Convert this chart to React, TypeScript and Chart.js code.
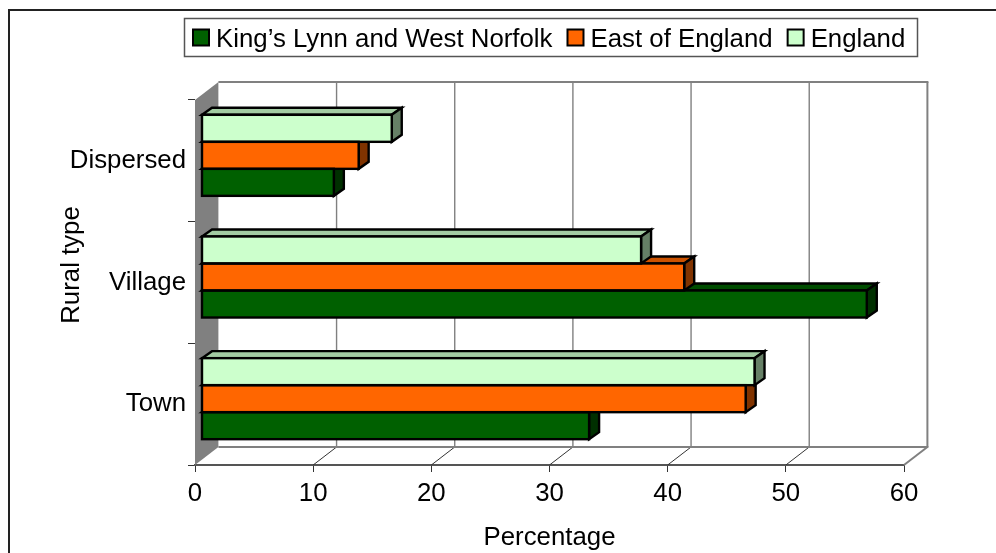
import React, { useEffect, useRef } from "react";
import { Chart, registerables } from "chart.js";

Chart.register(...registerables);

const categories = ["Town", "Village", "Dispersed"];
const kingsLynn = [32.8, 56.3, 11.2];
const eastOfEngland = [46.05, 40.85, 13.3];
const england = [46.8, 37.2, 16.1];
const seriesNames = ["King\u2019s Lynn and West Norfolk", "East of England", "England"];
const frontColors = ["#006000", "#FF6600", "#CCFFCC"];
const topColors = ["#004D00", "#CC5200", "#A3CCA3"];
const sideColors = ["#003000", "#803300", "#668066"];
const xTicks = [0, 10, 20, 30, 40, 50, 60];

const FONT = "Arial, 'Liberation Sans', sans-serif";
const FS = 25.8;
const WALL_DX = 23.4;
const WALL_DY = -18;
const BAR_DX = 10;
const BAR_DY = -7;
const BAR_SHIFT_X = 6.5;
const BAR_SHIFT_Y = -5.5;
const GRAY = "#808080";
const EDGE = 2.4;

function polygon(ctx: CanvasRenderingContext2D, pts: number[][], fill?: string) {
  ctx.beginPath();
  pts.forEach((p, i) => (i ? ctx.lineTo(p[0], p[1]) : ctx.moveTo(p[0], p[1])));
  ctx.closePath();
  if (fill) {
    ctx.fillStyle = fill;
    ctx.fill();
  }
}

function line(ctx: CanvasRenderingContext2D, x1: number, y1: number, x2: number, y2: number, color: string, w: number) {
  ctx.beginPath();
  ctx.moveTo(x1, y1);
  ctx.lineTo(x2, y2);
  ctx.strokeStyle = color;
  ctx.lineWidth = w;
  ctx.stroke();
}

const wallsAndDepth = {
  id: "wallsAndDepth",
  beforeDatasetsDraw(chart: any) {
    const ctx: CanvasRenderingContext2D = chart.ctx;
    const { left, right, top, bottom } = chart.chartArea;
    const x = chart.scales.x;
    ctx.save();
    // chart frame
    line(ctx, 9, 10, 996, 10, "#222222", 2);
    line(ctx, 9, 9, 9, 553, "#222222", 2);
    // left wall
    polygon(ctx, [[left, bottom], [left + WALL_DX, bottom + WALL_DY], [left + WALL_DX, top + WALL_DY], [left, top]], GRAY);
    // back wall grid and floor lines
    xTicks.forEach((t) => {
      const px = x.getPixelForValue(t);
      if (t > 0 && t < 60) {
        line(ctx, px + WALL_DX, top + WALL_DY, px + WALL_DX, bottom + WALL_DY, GRAY, 1.4);
        line(ctx, px, bottom, px + WALL_DX, bottom + WALL_DY, "#333333", 1);
      }
    });
    const bx = left + WALL_DX;
    const ex = right + WALL_DX;
    line(ctx, bx, top + WALL_DY, ex + 1, top + WALL_DY, GRAY, 2);
    line(ctx, bx, bottom + WALL_DY, ex + 1, bottom + WALL_DY, GRAY, 2);
    line(ctx, ex, top + WALL_DY, ex, bottom + WALL_DY, GRAY, 2);
    line(ctx, right, bottom, ex, bottom + WALL_DY, GRAY, 2);
    // 3D faces of bars, back to front within each group
    ctx.translate(BAR_SHIFT_X, BAR_SHIFT_Y);
    ctx.lineJoin = "miter";
    chart.data.datasets.forEach((_: any, d: number) => {
      chart.getDatasetMeta(d).data.forEach((bar: any) => {
        const { x: bxEnd, y: by, base, height } = bar.getProps(["x", "y", "base", "height"], true);
        const y0 = by - height / 2;
        const y1 = by + height / 2;
        polygon(ctx, [[base, y0], [base + BAR_DX, y0 + BAR_DY], [bxEnd + BAR_DX, y0 + BAR_DY], [bxEnd, y0]], topColors[d]);
        ctx.strokeStyle = "#000";
        ctx.lineWidth = EDGE;
        ctx.stroke();
        polygon(ctx, [[bxEnd, y0], [bxEnd + BAR_DX, y0 + BAR_DY], [bxEnd + BAR_DX, y1 + BAR_DY], [bxEnd, y1]], sideColors[d]);
        ctx.strokeStyle = "#000";
        ctx.lineWidth = EDGE;
        ctx.stroke();
      });
    });
    ctx.restore();
    // bars themselves share the same depth offset
    ctx.save();
    ctx.translate(BAR_SHIFT_X, BAR_SHIFT_Y);
  },
  afterDatasetsDraw(chart: any) {
    const ctx: CanvasRenderingContext2D = chart.ctx;
    // keep the translation set before the datasets while outlining the front faces
    chart.data.datasets.forEach((_: any, d: number) => {
      chart.getDatasetMeta(d).data.forEach((bar: any) => {
        const { x: xEnd, y: by, base, height } = bar.getProps(["x", "y", "base", "height"], true);
        ctx.strokeStyle = "#000";
        ctx.lineWidth = EDGE;
        ctx.strokeRect(base, by - height / 2, xEnd - base, height);
      });
    });
    ctx.restore();
  },
  afterDraw(chart: any) {
    const ctx: CanvasRenderingContext2D = chart.ctx;
    ctx.save();
    // y axis title, centred on the back wall
    ctx.font = `${FS}px ${FONT}`;
    ctx.fillStyle = "#000";
    ctx.textAlign = "center";
    ctx.textBaseline = "middle";
    ctx.translate(72, 265);
    ctx.rotate(-Math.PI / 2);
    ctx.fillText("Rural type", 0, 0);
    ctx.restore();

    // legend
    ctx.save();
    ctx.fillStyle = "#fff";
    ctx.fillRect(184.5, 18.5, 733, 38);
    ctx.strokeStyle = "#555";
    ctx.lineWidth = 1.5;
    ctx.strokeRect(184.5, 18.5, 733, 38);
    ctx.font = `${FS}px ${FONT}`;
    ctx.textBaseline = "middle";
    ctx.textAlign = "left";
    let lx = 193;
    chart.data.datasets.forEach((ds: any, i: number) => {
      ctx.fillStyle = frontColors[i];
      ctx.fillRect(lx, 29.5, 16, 16);
      ctx.strokeStyle = "#000";
      ctx.lineWidth = 2;
      ctx.strokeRect(lx, 29.5, 16, 16);
      ctx.fillStyle = "#000";
      ctx.fillText(ds.label, lx + 23, 39.5);
      lx += 23 + ctx.measureText(ds.label).width + 15;
    });
    ctx.restore();
  },
};

export default function App() {
  const ref = useRef<HTMLCanvasElement>(null);
  useEffect(() => {
    const chart = new Chart(ref.current as HTMLCanvasElement, {
      type: "bar",
      data: {
        labels: categories,
        datasets: [
          { label: seriesNames[0], data: kingsLynn, backgroundColor: frontColors[0], borderWidth: 0, order: 3 },
          { label: seriesNames[1], data: eastOfEngland, backgroundColor: frontColors[1], borderWidth: 0, order: 2 },
          { label: seriesNames[2], data: england, backgroundColor: frontColors[2], borderWidth: 0, order: 1 },
        ],
      },
      options: {
        indexAxis: "y",
        responsive: false,
        animation: false,
        layout: { padding: { left: 0, right: 92, top: 100, bottom: 0 } },
        categoryPercentage: 0.666,
        barPercentage: 1,
        plugins: { legend: { display: false }, tooltip: { enabled: false } },
        font: { family: FONT },
        scales: {
          x: {
            type: "linear",
            min: 0,
            max: 60,
            ticks: {
              stepSize: 10,
              color: "#000",
              padding: 6,
              maxRotation: 0,
              font: { size: FS, family: FONT },
            },
            grid: { drawOnChartArea: false, drawTicks: true, tickLength: 7, tickColor: "#333", tickWidth: 1 },
            border: { color: "#555", width: 2 },
            title: {
              display: true,
              text: "Percentage",
              color: "#000",
              padding: { top: 1.6, bottom: 0 },
              font: { size: FS, family: FONT },
            },
            afterFit(scale: any) {
              scale.height = 88;
            },
          },
          y: {
            reverse: true,
            ticks: { color: "#000", padding: 2, font: { size: FS, family: FONT } },
            grid: { drawOnChartArea: false, drawTicks: true, tickLength: 7, tickColor: "#333", tickWidth: 1 },
            border: { color: "#555", width: 1 },
            afterFit(scale: any) {
              scale.width = 195;
            },
          },
        },
      } as any,
      plugins: [wallsAndDepth],
    });
    return () => chart.destroy();
  }, []);
  return (
    <div style={{ position: "fixed", left: 0, top: 0, width: 996, height: 553, background: "#fff" }}>
      <canvas ref={ref} width={996} height={553} style={{ display: "block", width: 996, height: 553 }} />
    </div>
  );
}
